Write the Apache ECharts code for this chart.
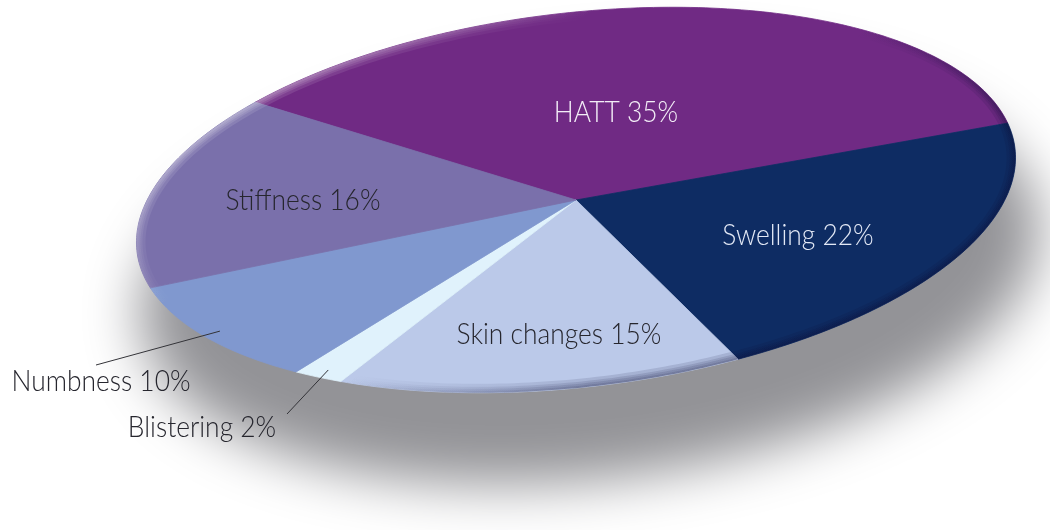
<!DOCTYPE html>
<html>
<head>
<meta charset="utf-8">
<title>Symptoms</title>
<script src="https://cdn.jsdelivr.net/npm/echarts@6/dist/echarts.min.js"></script>
<style>
  html, body { margin: 0; padding: 0; background: #fff; }
  #chart { width: 1050px; height: 530px; }
</style>
</head>
<body>
<div id="chart"></div>
<script>
// data
const categories = ['HATT', 'Swelling', 'Skin changes', 'Blistering', 'Numbness', 'Stiffness'];
const percents = [35, 22, 15, 2, 10, 16];

const sliceColors = ['#702a84', '#0e2c63', '#bbc9e9', '#e0f2fc', '#8098cf', '#7a70ab'];
const labelColors = ['#f3eef7', '#e3e9f6', '#26262e', '#26262e', '#26262e', '#26262e'];

// tilted disc layout (pixels / degrees)
const CX = 576, CY = 200, RX = 442, RY = 187, TILT = -6.7, START = 226;
const labelAt = [[616, 112], [798, 235], [559, 334], [202, 427], [101, 381], [303, 200]];
const leaderTo = [null, null, null, [287, 414], [96, 365], null];
const FONT = '300 30px Lato, "Open Sans", sans-serif';
const FAR = 3000; // shadow source is drawn off-screen, only its blur is shown

const total = percents.reduce((s, v) => s + v, 0);
const cosT = Math.cos(TILT * Math.PI / 180);
const sinT = Math.sin(TILT * Math.PI / 180);

function discPoint(deg, rx, ry, cx, cy) {
  const t = deg * Math.PI / 180;
  const x0 = rx * Math.cos(t), y0 = ry * Math.sin(t);
  return [(cx ?? CX) + x0 * cosT - y0 * sinT, (cy ?? CY) + x0 * sinT + y0 * cosT];
}

function arc(from, to, rx, ry, cx, cy) {
  const n = Math.max(2, Math.ceil(Math.abs(to - from)));
  const pts = [];
  for (let k = 0; k <= n; k++) {
    pts.push(discPoint(from + (to - from) * k / n, rx, ry, cx, cy));
  }
  return pts;
}

function sliceAngles(i) {
  let before = 0;
  for (let k = 0; k < i; k++) before += percents[k];
  const a0 = START + before / total * 360;
  return [a0, a0 + percents[i] / total * 360];
}

const sliceData = categories.map((c, i) => ({ name: c, value: [i, percents[i]] }));

const chart = echarts.init(document.getElementById('chart'));

chart.setOption({
  animation: false,
  series: [
    {
      // soft drop shadow under the disc
      type: 'custom',
      name: 'shadow',
      coordinateSystem: 'none',
      silent: true,
      z: 1,
      data: [[0]],
      renderItem: () => ({
        type: 'polygon',
        shape: { points: arc(0, 360, RX + 10, RY + 20, CX + 14 + FAR, CY + 72) },
        style: {
          fill: '#96969a',
          shadowBlur: 55,
          shadowColor: '#939397',
          shadowOffsetX: -FAR
        }
      })
    },
    {
      type: 'custom',
      name: 'slices',
      coordinateSystem: 'none',
      z: 2,
      data: sliceData,
      renderItem: (params, api) => {
        const i = api.value(0);
        const [a0, a1] = sliceAngles(i);
        const pts = [[CX, CY]].concat(arc(a0, a1, RX, RY));
        return {
          type: 'polygon',
          shape: { points: pts },
          style: { fill: sliceColors[i], stroke: sliceColors[i], lineWidth: 0.8 }
        };
      }
    },
    {
      // bevel: light along the top, dark along the bottom rim
      type: 'custom',
      name: 'rim',
      coordinateSystem: 'none',
      silent: true,
      z: 3,
      data: [[2], [4], [6], [9]],
      renderItem: (params, api) => {
        const w = api.value(0);
        const pts = arc(0, 360, RX, RY).concat(arc(360, 0, RX - w, RY - w));
        return {
          type: 'polygon',
          shape: { points: pts },
          style: {
            fill: {
              type: 'linear', x: 0.2, y: 0, x2: 0.5, y2: 1,
              colorStops: [
                { offset: 0, color: 'rgba(255,255,255,0.16)' },
                { offset: 0.35, color: 'rgba(255,255,255,0)' },
                { offset: 0.7, color: 'rgba(10,10,50,0)' },
                { offset: 1, color: 'rgba(10,10,50,0.12)' }
              ]
            }
          }
        };
      }
    },
    {
      type: 'custom',
      name: 'labels',
      coordinateSystem: 'none',
      silent: true,
      z: 4,
      data: sliceData,
      renderItem: (params, api) => {
        const i = api.value(0);
        const [a0, a1] = sliceAngles(i);
        const children = [{
          type: 'text',
          x: labelAt[i][0],
          y: labelAt[i][1],
          scaleX: 0.88,
          style: {
            text: categories[i] + ' ' + api.value(1) + '%',
            font: FONT,
            fill: labelColors[i],
            align: 'center',
            verticalAlign: 'middle'
          }
        }];
        if (leaderTo[i]) {
          const p = discPoint((a0 + a1) / 2, RX * 0.96, RY * 0.96);
          children.push({
            type: 'line',
            shape: { x1: p[0], y1: p[1], x2: leaderTo[i][0], y2: leaderTo[i][1] },
            style: { stroke: '#333338', lineWidth: 1 }
          });
        }
        return { type: 'group', children };
      }
    }
  ]
});
</script>
</body>
</html>
